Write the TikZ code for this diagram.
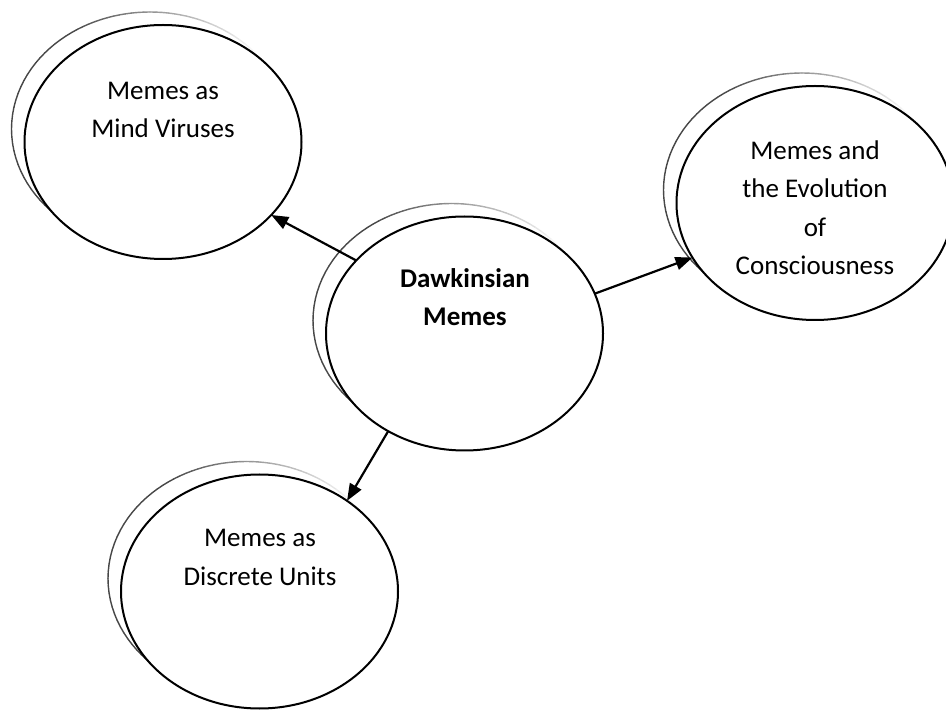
\documentclass[tikz,border=0pt]{standalone}
\usepackage{fontspec}
\setmainfont{Carlito}
\usetikzlibrary{shapes.geometric,arrows.meta}
\begin{document}
\begin{tikzpicture}[x=1pt,y=-1pt,
  mainell/.style={ellipse, draw=black, line width=2pt, fill=white, minimum width=277pt, minimum height=234pt, inner sep=0pt, outer sep=0pt},
  shadell/.style={ellipse, draw=none, minimum width=277pt, minimum height=234pt, inner sep=0pt, outer sep=0pt},
  shadline/.style={line width=1.4pt, line cap=round},
  lbl/.style={align=center, font=\fontsize{27}{38.5}\selectfont, inner sep=0pt},
  arr/.style={line width=2.2pt, -{Triangle[length=17pt,width=13pt]}}]
\useasboundingbox (0,0) rectangle (946,711);
% shadows
\node[shadell] (mindsh) at (150,129) {};
\node[shadell] (dawksh) at (451.5,320.5) {};
\node[shadell] (conssh) at (802,190) {};
\node[shadell] (discsh) at (246.5,578.5) {};
\foreach \n in {mindsh,dawksh,conssh,discsh}{
  \foreach \a [evaluate=\a as \p using {max(0,min(72,(\a-35)*72/95))},
               evaluate=\a as \b using {\a-3}] in {246,243,...,30}{
    \draw[shadline, draw=black!\p] (\n.\a) -- (\n.\b);
  }
}
% main ellipses
\node[mainell] (mind) at (163,142) {};
\node[mainell] (dawk) at (464.5,333.5) {};
\node[mainell] (cons) at (815,203) {};
\node[mainell] (disc) at (259.5,591.5) {};
% labels
\node[lbl] (mindt) at (163,110) {Memes as\\Mind Viruses};
\node[lbl, font=\fontsize{27}{38.5}\selectfont\bfseries] (dawkt) at (465,297) {Dawkinsian\\Memes};
\node[lbl] (const) at (815,207.5) {Memes and\\the Evolution\\of\\Consciousness};
\node[lbl] (disct) at (260,557.5) {Memes as\\Discrete Units};
% connectors
\draw[arr] (dawk.146.2) -- (mind.-34.3);
\draw[arr] (dawk.17.2) -- (cons.204.9);
\draw[arr] (dawk.232.4) -- (disc.46.8);
\end{tikzpicture}
\end{document}
